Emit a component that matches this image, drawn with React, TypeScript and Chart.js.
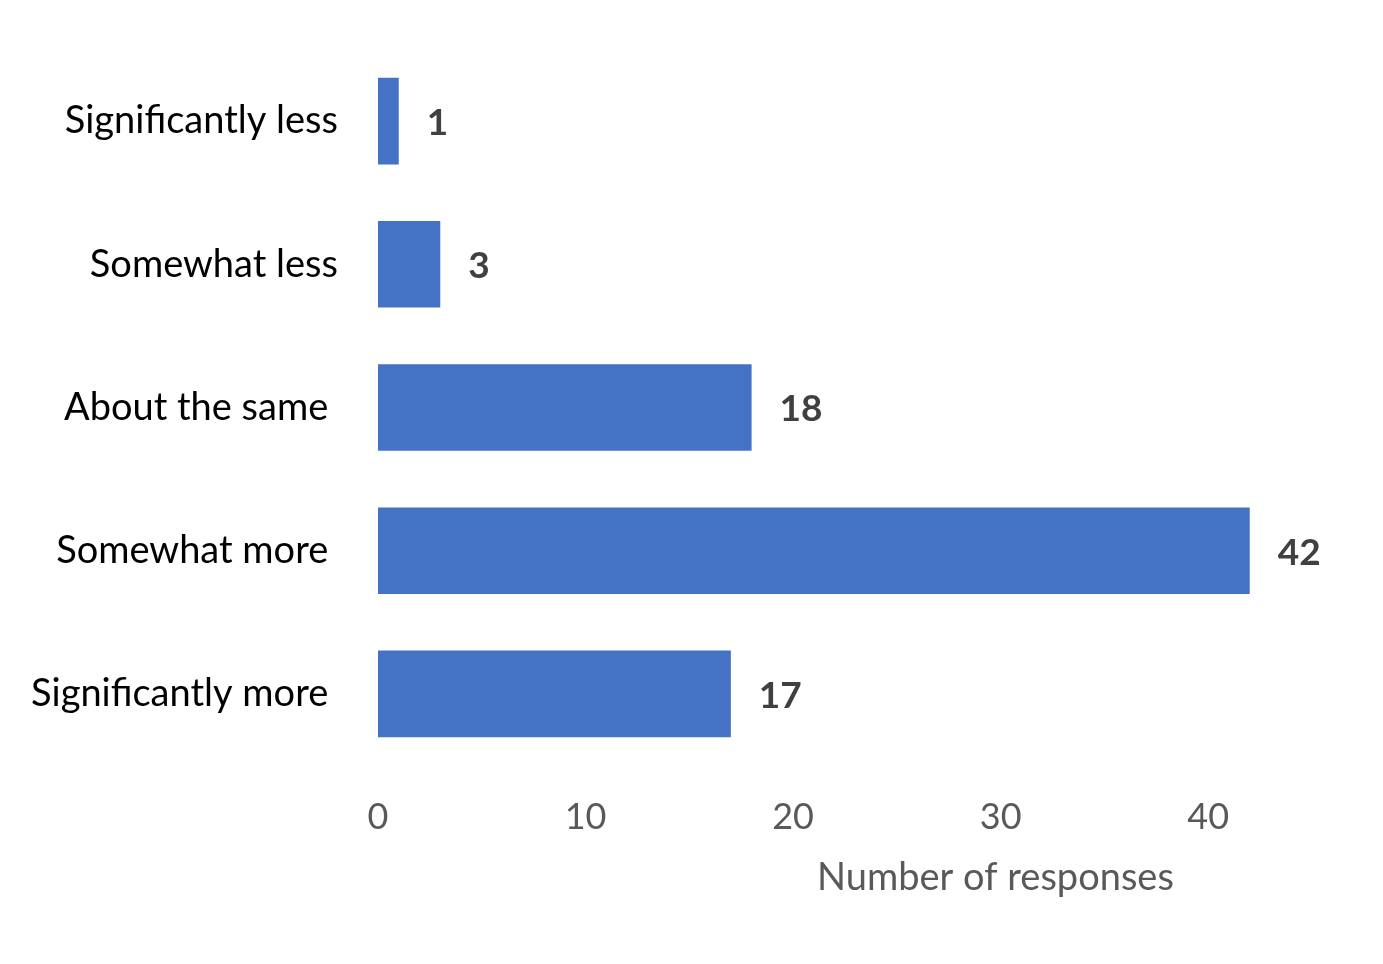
import React, { useEffect, useRef } from "react";
import { Chart, registerables } from "chart.js";

Chart.register(...registerables);

const categories = [
  "Significantly less",
  "Somewhat less",
  "About the same ",
  "Somewhat more ",
  "Significantly more ",
];
const responses = [1, 3, 18, 42, 17];
const xTicks = [0, 10, 20, 30, 40];
const xAxisTitle = "Number of responses";

const FONT = "Lato, 'Open Sans', sans-serif";

const valueLabels = {
  id: "valueLabels",
  afterDatasetsDraw(chart: any) {
    const ctx = chart.ctx;
    const meta = chart.getDatasetMeta(0);
    ctx.save();
    ctx.font = `bold 37px ${FONT}`;
    ctx.fillStyle = "#404040";
    ctx.textAlign = "left";
    ctx.textBaseline = "middle";
    meta.data.forEach((bar: any, i: number) => {
      ctx.fillText(String(responses[i]), bar.x + 28, bar.y + 2);
    });
    ctx.restore();
  },
};

const axisTitle = {
  id: "axisTitle",
  afterDraw(chart: any) {
    const ctx = chart.ctx;
    const x = chart.scales.x;
    ctx.save();
    ctx.font = `38px ${FONT}`;
    ctx.fillStyle = "#595959";
    ctx.textAlign = "center";
    ctx.textBaseline = "middle";
    ctx.fillText(xAxisTitle, x.getPixelForValue(29.75), x.top + 112);
    ctx.restore();
  },
};

export default function App() {
  const ref = useRef<HTMLCanvasElement>(null);

  useEffect(() => {
    document.body.style.margin = "0";
    const chart = new Chart(ref.current!, {
      type: "bar",
      data: {
        labels: categories,
        datasets: [
          {
            data: responses,
            backgroundColor: "#4472C4",
            borderWidth: 0,
            barPercentage: 0.605,
            categoryPercentage: 1,
          },
        ],
      },
      options: {
        indexAxis: "y",
        animation: false,
        responsive: false,
        layout: { padding: { top: 49.5, right: 71, bottom: 0, left: 0 } },
        plugins: {
          legend: { display: false },
          tooltip: { enabled: false },
        },
        scales: {
          x: {
            min: 0,
            max: 45,
            afterBuildTicks(scale: any) {
              scale.ticks = xTicks.map((v) => ({ value: v }));
            },
            afterFit(scale: any) {
              scale.height = 964 - 765.5;
            },
            grid: { display: false, drawTicks: false },
            border: { display: false },
            ticks: {
              color: "#595959",
              font: { family: FONT, size: 36 },
              padding: 30,
            },
          },
          y: {
            afterFit(scale: any) {
              scale.width = 378;
              scale.paddingTop = 0;
              scale.paddingBottom = 0;
            },
            grid: { display: false, drawTicks: false },
            border: { display: false },
            ticks: {
              color: "#000000",
              font: { family: FONT, size: 38 },
              padding: 40,
            },
          },
        },
      },
      plugins: [valueLabels, axisTitle],
    });
    return () => chart.destroy();
  }, []);

  return (
    <div style={{ width: 1383, height: 964, background: "#fff" }}>
      <canvas ref={ref} width={1383} height={964} />
    </div>
  );
}
